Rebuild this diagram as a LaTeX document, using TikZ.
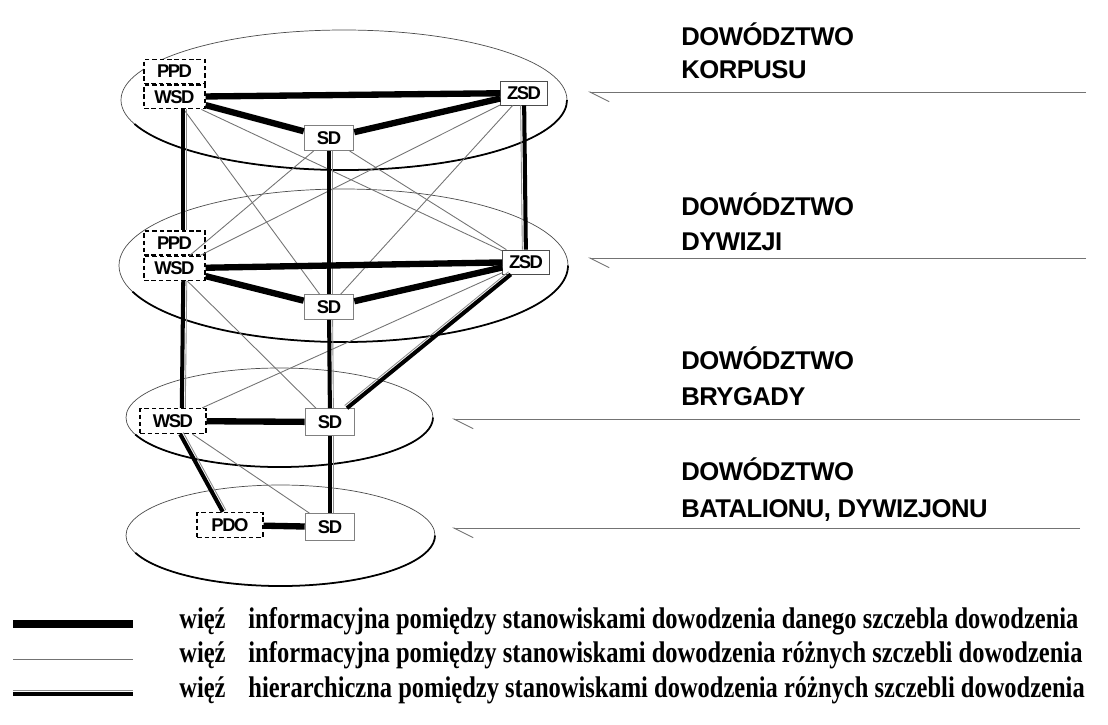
\documentclass[tikz,border=0pt]{standalone}
\usepackage{fontspec}
\setsansfont{Liberation Sans}
\newfontfamily\boxfont[LetterSpace=-8]{Liberation Sans}
\newfontfamily\lvlfont[LetterSpace=-2]{Liberation Sans}
\newfontfamily\legfont[FakeStretch=0.82]{Liberation Serif}
\usetikzlibrary{
  calc,positioning,
  arrows.meta
}

\tikzset{
  ring/.style={draw=black!70,line width=0.4pt},
  rim/.style={draw=black,line width=1pt},
  sd/.style={draw=black!50,fill=white,line width=0.5pt,inner sep=0pt,
    minimum width=28.3pt,minimum height=14.2pt,
    font=\boxfont\bfseries\fontsize{10.5}{11}\selectfont},
  zsd/.style={sd,draw=black!70,minimum width=26.6pt,minimum height=13.6pt},
  pd/.style={sd,draw=black,line width=0.8pt,dash pattern=on 2.6pt off 1.6pt,
    minimum width=34.6pt,minimum height=13.6pt},
  pdw/.style={pd,minimum width=37.4pt,minimum height=14.2pt},
  same/.style={line width=3.6pt},
  cross/.style={draw=black!55,line width=0.5pt},
  hier/.style={line width=2.3pt},
  hierb/.style={draw=black!45,line width=0.5pt},
  ptr/.style={draw=black!55,line width=0.5pt,
    -{Straight Barb[harpoon,length=11pt,width=11pt]}},
  lvl/.style={font=\lvlfont\bfseries\fontsize{14.6}{17}\selectfont,inner sep=0pt},
  leg/.style={font=\legfont\bfseries\fontsize{17}{20}\selectfont,inner sep=0pt}
}

\begin{document}
\begin{tikzpicture}[x=0.02cm,y=0.02cm]
\useasboundingbox (0,0) rectangle (1108,-724);

% warstwy dowodzenia
\draw[ring] (344,-100) ellipse (223 and 70);
\draw[rim] (344,-100) ++(200:223 and 70) arc[start angle=200,end angle=360,x radius=223,y radius=70];
\draw[ring] (343.5,-265.5) ellipse (224.5 and 76.5);
\draw[rim] (343.5,-265.5) ++(200:224.5 and 76.5) arc[start angle=200,end angle=360,x radius=224.5,y radius=76.5];
\draw[ring] (279.5,-417.5) ellipse (153.5 and 49.5);
\draw[rim] (279.5,-417.5) ++(200:153.5 and 49.5) arc[start angle=200,end angle=360,x radius=153.5,y radius=49.5];
\draw[ring] (280.5,-535.5) ellipse (154.5 and 50.5);
\draw[rim] (280.5,-535.5) ++(200:154.5 and 50.5) arc[start angle=200,end angle=360,x radius=154.5,y radius=50.5];

% stanowiska
\node[pd] (ppdK) at (174.5,-71.5) {PPD};
\node[pd,below=0pt of ppdK] (wsdK) {WSD};
\node[zsd] (zsdK) at (524,-93) {ZSD};
\node[sd] (sdK) at (329,-138) {SD};
\node[pd] (ppdD) at (174.5,-243) {PPD};
\node[pd,below=0pt of ppdD] (wsdD) {WSD};
\node[zsd] (zsdD) at (526,-262) {ZSD};
\node[sd] (sdD) at (329,-307) {SD};
\node[pdw] (wsdB) at (173,-421) {WSD};
\node[sd,minimum height=15.3pt] (sdB) at (330,-422) {SD};
\node[pdw] (pdoT) at (230,-525) {PDO};
\node[sd,minimum height=15.3pt] (sdT) at (330,-527) {SD};

% powiazania informacyjne roznych szczebli
\draw[cross] (wsdK) -- (sdD);
\draw[cross] (wsdK) -- (zsdD);
\draw[cross] (sdK) -- (wsdD);
\draw[cross] (sdK) -- (zsdD);
\draw[cross] (zsdK) -- (wsdD);
\draw[cross] (zsdK) -- (sdD);
\draw[cross] (wsdD) -- (sdB);
\draw[cross] (zsdD) -- (wsdB);
\draw[cross] (wsdB) -- (sdT);

% powiazania hierarchiczne
\draw[hier] ([xshift=5]wsdK.south) -- ([xshift=5]ppdD.north);
\draw[hierb,transform canvas={xshift=2pt}] ([xshift=5]wsdK.south) -- ([xshift=5]ppdD.north);
\draw[hier] (sdK) -- (sdD);
\draw[hierb,transform canvas={xshift=2pt}] (sdK) -- (sdD);
\draw[hier] (zsdK) -- (zsdD);
\draw[hierb,transform canvas={xshift=-2pt}] (zsdK) -- (zsdD);
\draw[hier] ([xshift=5]wsdD.south) -- ([xshift=5]wsdB.north);
\draw[hierb,transform canvas={xshift=2pt}] ([xshift=5]wsdD.south) -- ([xshift=5]wsdB.north);
\draw[hier] (sdD) -- (sdB);
\draw[hierb,transform canvas={xshift=2pt}] (sdD) -- (sdB);
\draw[hier] (zsdD) -- (sdB);
\draw[hierb,transform canvas={shift={(-1.3pt,1.5pt)}}] (zsdD) -- (sdB);
\draw[hier] (sdB) -- (sdT);
\draw[hierb,transform canvas={xshift=2pt}] (sdB) -- (sdT);
\draw[hier] (wsdB) -- (pdoT);
\draw[hierb,transform canvas={shift={(1.75pt,0.95pt)}}] (wsdB) -- (pdoT);

% powiazania informacyjne danego szczebla
\draw[same] (wsdK) -- (zsdK);
\draw[same] (wsdK) -- (sdK);
\draw[same] (sdK) -- (zsdK);
\draw[same] (wsdD) -- (zsdD);
\draw[same] (wsdD) -- (sdD);
\draw[same] (sdD) -- (zsdD);
\draw[same] (wsdB) -- (sdB);
\draw[same] (pdoT) -- (sdT);

% opisy szczebli
\node[lvl,anchor=base west] (korA) at (681,-45) {DOWÓDZTWO};
\node[lvl,anchor=base west] (korB) at (681,-78) {KORPUSU};
\node[lvl,anchor=base west] (dywA) at (681,-215) {DOWÓDZTWO};
\node[lvl,anchor=base west] (dywB) at (681,-250) {DYWIZJI};
\node[lvl,anchor=base west] (bryA) at (681,-369) {DOWÓDZTWO};
\node[lvl,anchor=base west] (bryB) at (681,-405) {BRYGADY};
\node[lvl,anchor=base west] (batA) at (681,-480) {DOWÓDZTWO};
\node[lvl,anchor=base west] (batB) at (681,-517) {BATALIONU, DYWIZJONU};

\coordinate (korP) at (588,-92);
\coordinate (korQ) at (1086,-92);
\coordinate (dywP) at (588,-258);
\coordinate (dywQ) at (1086,-258);
\coordinate (bryP) at (452,-419);
\coordinate (bryQ) at (1080,-419);
\coordinate (batP) at (452,-528);
\coordinate (batQ) at (1080,-528);
\draw[ptr] (korQ) -- (korP);
\draw[ptr] (dywQ) -- (dywP);
\draw[ptr] (bryQ) -- (bryP);
\draw[ptr] (batQ) -- (batP);

% legenda
\coordinate (legAp) at (13,-624);
\coordinate (legAq) at (133,-624);
\coordinate (legBp) at (13,-659);
\coordinate (legBq) at (133,-659);
\coordinate (legCp) at (13,-694);
\coordinate (legCq) at (133,-694);
\draw[same,line width=4.5pt] (legAp) -- (legAq);
\draw[cross] (legBp) -- (legBq);
\draw[hier] (legCp) -- (legCq);
\draw[hierb,transform canvas={yshift=2pt}] (legCp) -- (legCq);
\node[leg,anchor=base west] (legA) at (179,-628)
  {więź\hspace{13pt}informacyjna pomiędzy stanowiskami dowodzenia danego szczebla dowodzenia};
\node[leg,anchor=base west] (legB) at (179,-662)
  {więź\hspace{13pt}informacyjna pomiędzy stanowiskami dowodzenia różnych szczebli dowodzenia};
\node[leg,anchor=base west] (legC) at (179,-697)
  {więź\hspace{13pt}hierarchiczna pomiędzy stanowiskami dowodzenia różnych szczebli dowodzenia};
\end{tikzpicture}
\end{document}
